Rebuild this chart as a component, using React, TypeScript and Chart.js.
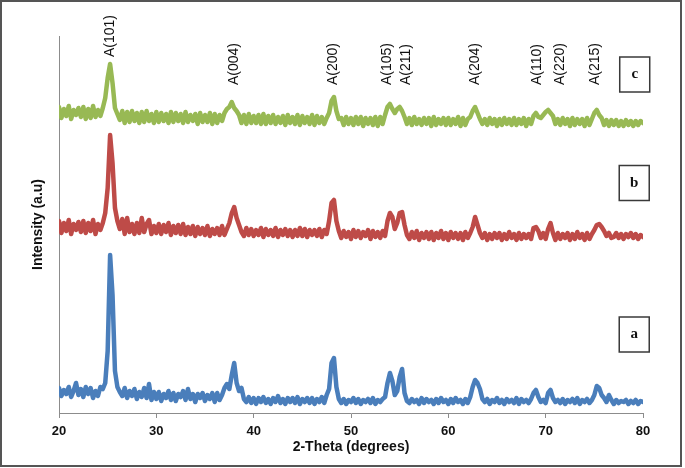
import { useEffect, useRef } from "react";
import { Chart, registerables } from "chart.js";

Chart.register(...registerables);

// 2-theta sampling grid (degrees)
const THETA_START = 20;
const THETA_STEP = 0.25;
const THETA_COUNT = 241;
const twoTheta: number[] = Array.from({ length: THETA_COUNT }, (_, i) => THETA_START + i * THETA_STEP);

const xTicks = [20, 30, 40, 50, 60, 70, 80];

// sample a (blue)
const sampleA = [
  25, 17, 23, 19, 26, 16, 22, 30, 18, 24, 16, 26, 19, 25, 15, 22, 17, 26, 24, 30,
  62, 158, 118, 42, 26, 21, 17, 25, 15, 22, 17, 24, 14, 21, 16, 25, 15, 29, 13, 21,
  14, 21, 12, 19, 15, 22, 13, 20, 12, 19, 16, 22, 13, 24, 14, 19, 11, 19, 15, 20,
  12, 18, 14, 20, 11, 20, 13, 18, 25, 29, 24, 38, 50, 30, 22, 25, 14, 11, 16, 10,
  15, 9, 15, 11, 16, 10, 14, 9, 15, 11, 17, 10, 14, 9, 15, 11, 15, 10, 16, 9,
  14, 11, 15, 10, 15, 9, 14, 11, 16, 10, 18, 24, 50, 55, 26, 14, 10, 14, 9, 13,
  11, 15, 10, 14, 9, 13, 11, 14, 10, 15, 9, 13, 11, 14, 16, 30, 40, 32, 18, 22,
  36, 44, 20, 12, 10, 14, 11, 13, 9, 15, 10, 14, 11, 13, 9, 14, 10, 15, 11, 13,
  9, 14, 10, 15, 11, 13, 9, 14, 10, 16, 26, 33, 30, 24, 14, 11, 14, 9, 13, 11,
  15, 10, 13, 9, 14, 11, 13, 10, 15, 9, 14, 11, 13, 10, 14, 20, 23, 16, 11, 13,
  10, 20, 23, 15, 11, 13, 10, 14, 9, 13, 11, 14, 10, 15, 9, 13, 11, 14, 10, 13,
  18, 27, 25, 18, 15, 11, 18, 13, 9, 13, 10, 12, 11, 13, 9, 12, 10, 13, 9, 12,
  11,
];

// sample b (red)
const sampleB = [
  192, 180, 190, 182, 193, 179, 189, 183, 191, 181, 192, 180, 190, 182, 193, 179, 189, 183, 190, 200,
  225, 278, 250, 205, 192, 184, 194, 179, 195, 181, 189, 179, 190, 180, 195, 181, 189, 193, 179, 187,
  180, 189, 179, 188, 181, 190, 178, 187, 180, 188, 179, 189, 178, 186, 179, 187, 177, 186, 179, 185,
  178, 187, 177, 184, 179, 185, 178, 187, 178, 184, 190, 200, 206, 195, 188, 181, 177, 185, 178, 184,
  177, 183, 178, 185, 176, 184, 178, 183, 177, 185, 176, 183, 178, 184, 177, 183, 176, 183, 177, 185,
  177, 184, 176, 183, 178, 183, 177, 184, 176, 183, 179, 192, 210, 213, 192, 182, 175, 182, 176, 181,
  174, 183, 176, 182, 175, 181, 177, 183, 174, 182, 176, 181, 175, 182, 177, 192, 200, 196, 184, 190,
  200, 201, 188, 178, 174, 181, 175, 182, 173, 180, 175, 181, 174, 181, 173, 180, 175, 182, 174, 180,
  173, 181, 175, 180, 174, 180, 173, 181, 175, 180, 186, 196, 188, 180, 175, 180, 173, 179, 174, 180,
  175, 180, 173, 179, 174, 181, 175, 179, 173, 180, 174, 179, 175, 179, 174, 185, 186, 182, 175, 180,
  174, 184, 190, 180, 173, 180, 174, 179, 175, 180, 173, 179, 174, 181, 175, 179, 173, 180, 174, 179,
  183, 188, 189, 186, 182, 177, 180, 175, 176, 180, 175, 179, 174, 179, 176, 180, 175, 179, 174, 178,
  176,
];

// sample c (green)
const sampleC = [
  306, 295, 304, 297, 307, 294, 303, 298, 305, 296, 306, 294, 304, 295, 307, 296, 303, 297, 305, 315,
  335, 349, 330, 305, 299, 293, 302, 290, 301, 291, 302, 292, 300, 290, 301, 291, 302, 292, 299, 290,
  301, 291, 300, 292, 299, 290, 301, 291, 300, 292, 299, 290, 301, 291, 298, 292, 299, 289, 300, 291,
  298, 291, 300, 289, 299, 290, 298, 292, 300, 304, 306, 311, 305, 302, 298, 290, 298, 289, 299, 290,
  297, 290, 298, 289, 299, 289, 297, 290, 298, 289, 296, 290, 297, 288, 298, 290, 296, 289, 298, 288,
  297, 290, 296, 289, 298, 288, 297, 290, 296, 289, 295, 300, 312, 316, 302, 294, 295, 288, 296, 289,
  295, 288, 296, 289, 296, 287, 295, 289, 295, 288, 296, 287, 296, 289, 298, 306, 309, 304, 300, 304,
  306, 302, 296, 289, 295, 288, 296, 289, 294, 288, 295, 289, 295, 287, 296, 288, 294, 289, 295, 288,
  295, 288, 294, 289, 296, 287, 295, 288, 294, 296, 302, 306, 300, 294, 289, 294, 288, 295, 289, 294,
  287, 294, 288, 295, 289, 294, 288, 295, 288, 294, 289, 295, 287, 294, 289, 297, 300, 296, 295, 298,
  301, 303, 300, 297, 289, 294, 288, 295, 289, 294, 287, 295, 288, 294, 289, 294, 287, 295, 288, 294,
  300, 303, 298, 295, 288, 293, 287, 293, 288, 293, 287, 292, 287, 293, 288, 292, 287, 292, 288, 292,
  290,
];

// peak annotations (hkl of anatase)
const peakLabels = ["A(101)", "A(004)", "A(200)", "A(105)", "A(211)", "A(204)", "A(110)", "A(220)", "A(215)"];
const peakPositions = [25.3, 38.0, 48.2, 53.7, 55.7, 62.8, 69.1, 71.5, 75.1];
const peakLabelBase = [356, 328, 328, 328, 328, 328, 328, 328, 328];

// sample tags
const sampleTags = ["c", "b", "a"];
const sampleTagX = [79.15, 79.1, 79.1];
const sampleTagY = [338.5, 230, 78.5];

const Y_MIN = 0;
const Y_MAX = 377;

const annotations = {
  id: "annotations",
  afterDatasetsDraw(chart: any) {
    const { ctx, scales } = chart;
    const xs = scales.x;
    const ys = scales.y;
    ctx.save();
    ctx.fillStyle = "#111111";
    ctx.font = '14px "Liberation Sans", Arial, sans-serif';
    ctx.textAlign = "left";
    ctx.textBaseline = "middle";
    peakLabels.forEach((t, i) => {
      const px = xs.getPixelForValue(peakPositions[i]);
      const py = ys.getPixelForValue(peakLabelBase[i]);
      ctx.save();
      ctx.translate(px, py);
      ctx.rotate(-Math.PI / 2);
      ctx.fillText(t, 0, 0);
      ctx.restore();
    });

    const bw = 30;
    const bh = 35;
    sampleTags.forEach((t, i) => {
      const cx = xs.getPixelForValue(sampleTagX[i]);
      const cy = ys.getPixelForValue(sampleTagY[i]);
      ctx.fillStyle = "#ffffff";
      ctx.fillRect(cx - bw / 2, cy - bh / 2, bw, bh);
      ctx.strokeStyle = "#3a3a3a";
      ctx.lineWidth = 1.5;
      ctx.strokeRect(cx - bw / 2, cy - bh / 2, bw, bh);
      ctx.fillStyle = "#111111";
      ctx.font = 'bold 15px "Liberation Serif", "Times New Roman", serif';
      ctx.textAlign = "center";
      ctx.textBaseline = "middle";
      ctx.fillText(t, cx, cy);
    });
    ctx.restore();
  },
  afterDraw(chart: any) {
    const { ctx, width, height } = chart;
    ctx.save();
    ctx.strokeStyle = "#555555";
    ctx.lineWidth = 2;
    ctx.strokeRect(1, 1, width - 5, height - 3);
    ctx.restore();
  },
};

export default function App() {
  const canvasRef = useRef<HTMLCanvasElement | null>(null);

  useEffect(() => {
    if (!canvasRef.current) return;
    const mk = (arr: number[]) => arr.map((y, i) => ({ x: twoTheta[i], y }));
    const common = { borderWidth: 4.5, pointRadius: 0, tension: 0, borderJoinStyle: "round" as const, borderCapStyle: "round" as const };
    const chart = new Chart(canvasRef.current, {
      type: "line",
      data: {
        datasets: [
          { label: "a", data: mk(sampleA), borderColor: "#4A7EBB", ...common },
          { label: "b", data: mk(sampleB), borderColor: "#BE4B48", ...common },
          { label: "c", data: mk(sampleC), borderColor: "#98B954", ...common },
        ],
      },
      options: {
        animation: false,
        responsive: false,
        devicePixelRatio: 1,
        layout: { padding: { left: 0, top: 36, right: 42, bottom: 0 } },
        plugins: { legend: { display: false }, tooltip: { enabled: false } },
        scales: {
          x: {
            type: "linear",
            min: 20,
            max: 80,
            afterFit: (s: any) => {
              s.height = 55;
            },
            afterBuildTicks: (s: any) => {
              s.ticks = xTicks.map((v) => ({ value: v }));
            },
            ticks: {
              color: "#111111",
              font: { family: '"Liberation Sans", Arial, sans-serif', size: 13, weight: "bold" },
              padding: 6,
              maxRotation: 0,
            },
            grid: { display: true, drawOnChartArea: false, color: "#8c8c8c", tickLength: 5 },
            border: { display: true, color: "#8c8c8c", width: 1 },
            title: {
              display: true,
              text: "2-Theta (degrees)",
              color: "#111111",
              font: { family: '"Liberation Sans", Arial, sans-serif', size: 14, weight: "bold" },
              padding: { top: 0, bottom: 12 },
            },
          },
          y: {
            type: "linear",
            min: Y_MIN,
            max: Y_MAX,
            afterFit: (s: any) => {
              s.width = 59;
            },
            ticks: { display: false },
            grid: { display: false },
            border: { display: true, color: "#8c8c8c", width: 1 },
            title: {
              display: true,
              text: "Intensity (a.u)",
              color: "#111111",
              font: { family: '"Liberation Sans", Arial, sans-serif', size: 14, weight: "bold" },
              padding: { top: 30, bottom: 0 },
            },
          },
        },
      },
      plugins: [annotations],
    });
    return () => chart.destroy();
  }, []);

  return (
    <div style={{ position: "absolute", left: 0, top: 0, width: 685, height: 468, background: "#ffffff" }}>
      <canvas ref={canvasRef} width={685} height={468} />
    </div>
  );
}
